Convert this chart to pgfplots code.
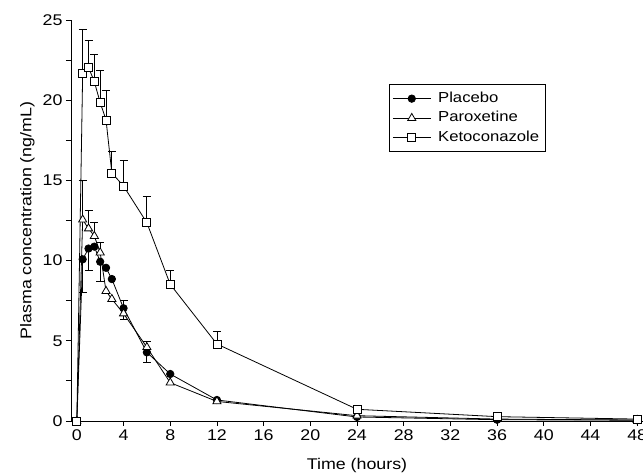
\documentclass[border=0pt]{standalone}
\usepackage{pgfplots}
\usepackage{pgfplotstable}
\pgfplotsset{compat=1.18}
\usepackage{fontspec}
\setmainfont{Liberation Sans}[FakeStretch=1.15]

\pgfplotstableread{
t c
0 0
0.5 10.08
1 10.75
1.5 10.87
2 9.93
2.5 9.55
3 8.85
4 7.03
6 4.28
8 2.93
12 1.31
24 0.25
36 0.08
48 0.05
}\placebo
\pgfplotstableread{
t c e
0.5 10.08 2.05
1 10.75 1.35
2 9.93 1.25
4 7.03 0.70
6 4.28 0.60
}\placeboerr
\pgfplotstableread{
t c
0 0
0.5 12.55
1 12.0
1.5 11.53
2 10.5
2.5 8.1
3 7.6
4 6.7
6 4.6
8 2.39
12 1.22
24 0.33
36 0.12
48 0.06
}\parox
\pgfplotstableread{
t c e
0.5 12.55 2.45
1 12.0 1.1
1.5 11.53 0.86
2 10.5 0.64
4 6.7 0.84
6 4.6 0.34
}\paroxerr
\pgfplotstableread{
t c
0 0
0.5 21.7
1 22.05
1.5 21.15
2 19.85
2.5 18.77
3 15.46
4 14.65
6 12.36
8 8.52
12 4.8
24 0.73
36 0.27
48 0.12
}\keto
\pgfplotstableread{
t c e
0.5 21.7 2.7
1 22.05 1.7
1.5 21.15 1.7
2 19.85 2.0
2.5 18.77 1.85
3 15.46 1.35
4 14.65 1.6
6 12.36 1.65
8 8.52 0.85
12 4.8 0.8
}\ketoerr

\begin{document}
\begin{tikzpicture}
\begin{axis}[
  scale only axis,
  width=572pt, height=401pt,
  xmin=-0.5, xmax=48.5, ymin=0, ymax=25,
  axis lines=left,
  axis line style={-, line width=0.8pt},
  tick style={line width=0.8pt, black},
  tick align=outside,
  major tick length=5pt, minor tick length=5pt,
  xtick={0,4,...,48},
  ytick={0,5,...,25},
  minor ytick={2.5,7.5,...,22.5},
  /pgf/number format/assume math mode=true,
  tick label style={font=\fontsize{15.5}{18}\selectfont},
  label style={font=\fontsize{15.5}{18}\selectfont},
  xlabel={Time (hours)},
  ylabel={Plasma concentration (ng/mL)},
  xlabel style={at={(axis description cs:0.5,-0.0923)}, anchor=north, inner sep=0pt},
  ylabel style={at={(axis description cs:-0.0892,0.5)}, anchor=north, inner sep=0pt},
  legend style={at={(rel axis cs:0.5559,0.8404)}, anchor=north west,
    draw=black, line width=0.8pt, inner xsep=3pt, inner ysep=4.5pt,
    column sep=4pt,
    font=\fontsize{14.5}{17}\selectfont,
    nodes={inner sep=3pt, text height=10.5pt, text depth=3pt}},
  legend cell align=left,
  legend image code/.code={\draw[mark repeat=2,mark phase=2] plot coordinates {(0pt,0pt) (19pt,0pt) (38pt,0pt)};},
  every axis plot/.append style={line width=0.8pt},
  error bars/error bar style={line width=0.8pt, black},
  error bars/error mark options={rotate=90, mark size=4pt, line width=0.8pt, black},
]
% error bars (drawn first)
\addplot[forget plot, only marks, mark=none, black,
  error bars/.cd, y dir=minus, y explicit]
  table[x=t, y=c, y error=e] {\placeboerr};
\addplot[forget plot, only marks, mark=none, black,
  error bars/.cd, y dir=plus, y explicit]
  table[x=t, y=c, y error=e] {\paroxerr};
\addplot[forget plot, only marks, mark=none, black,
  error bars/.cd, y dir=plus, y explicit]
  table[x=t, y=c, y error=e] {\ketoerr};
% series
\addplot[black, mark=*, mark size=3.7pt, mark options={fill=black, solid}]
  table[x=t, y=c] {\placebo};
\addlegendentry{Placebo}
\addplot[black, mark=triangle*, mark size=4.7pt, mark options={fill=white, solid}]
  table[x=t, y=c] {\parox};
\addlegendentry{Paroxetine}
\addplot[black, mark=square*, mark size=4pt, mark options={fill=white, solid}]
  table[x=t, y=c] {\keto};
\addlegendentry{Ketoconazole}
\end{axis}
\pgfresetboundingbox
\useasboundingbox (-71pt,-55pt) rectangle (572pt,421pt);
\end{tikzpicture}
\end{document}
